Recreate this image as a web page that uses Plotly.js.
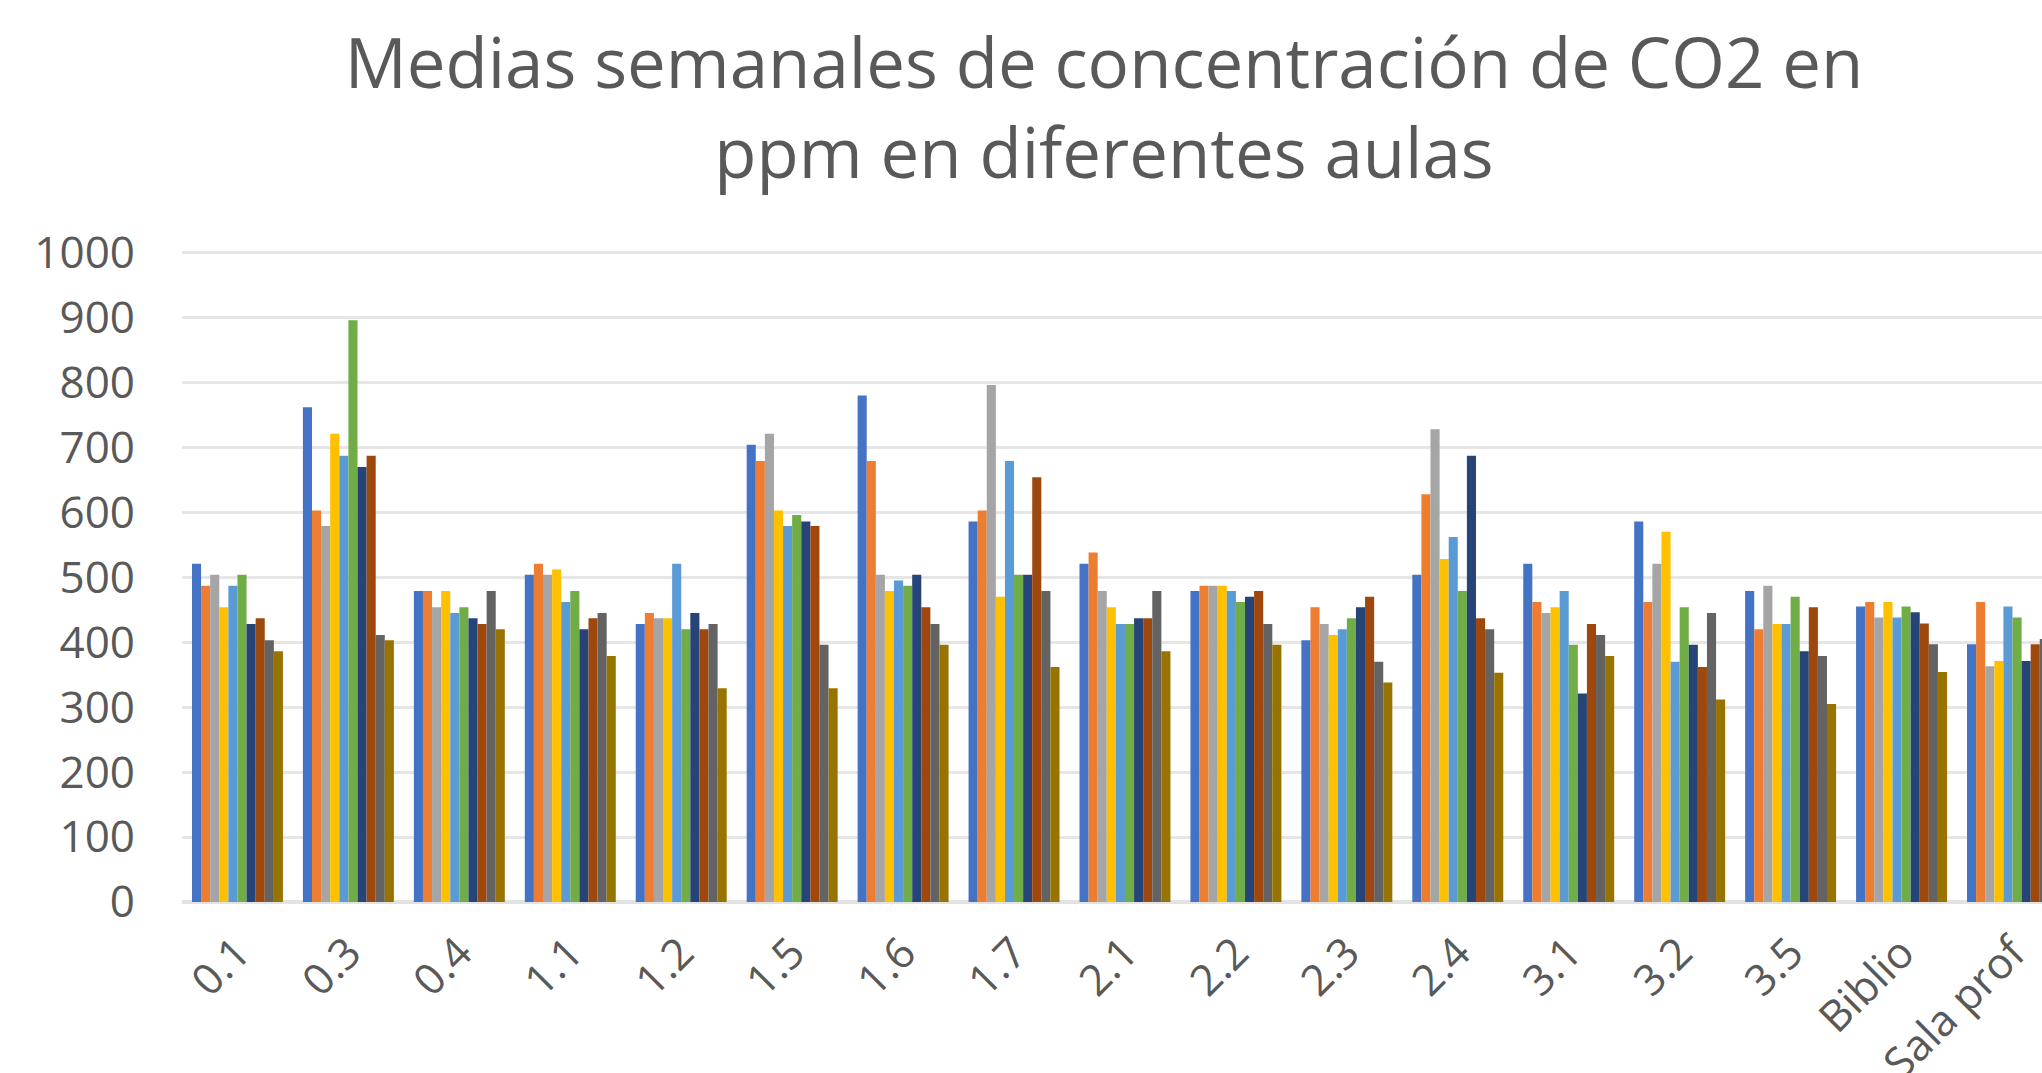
<!DOCTYPE html>
<html>
<head>
<meta charset="utf-8">
<script src="https://cdn.plot.ly/plotly-3.0.1.min.js"></script>
<style>
  html, body { margin: 0; padding: 0; background: #ffffff; overflow: hidden; }
  #chart { width: 2042px; height: 1073px; }
</style>
</head>
<body>
<div id="chart"></div>
<script>
// Categories (aulas)
const categories = ["0.1", "0.3", "0.4", "1.1", "1.2", "1.5", "1.6", "1.7", "2.1", "2.2", "2.3", "2.4", "3.1", "3.2", "3.5", "Biblio", "Sala prof"];

// Series names (weeks)
const seriesNames = ["Semana 1", "Semana 2", "Semana 3", "Semana 4", "Semana 5", "Semana 6", "Semana 7", "Semana 8", "Semana 9", "Semana 10"];

// Weekly mean CO2 (ppm) per classroom, one array per week
const semana1  = [521, 762, 479, 504, 428, 704, 780, 586, 521, 479, 403, 504, 521, 586, 479, 455, 397];
const semana2  = [487, 603, 479, 521, 445, 679, 679, 603, 538, 487, 454, 628, 462, 462, 420, 462, 462];
const semana3  = [504, 579, 454, 504, 437, 721, 504, 796, 479, 487, 428, 728, 445, 521, 487, 438, 363];
const semana4  = [454, 721, 479, 512, 437, 603, 479, 470, 454, 487, 411, 528, 454, 570, 428, 462, 371];
const semana5  = [487, 687, 445, 462, 521, 579, 495, 679, 428, 479, 420, 562, 479, 370, 428, 438, 455];
const semana6  = [504, 896, 454, 479, 420, 596, 487, 504, 428, 462, 437, 479, 396, 454, 470, 455, 438];
const semana7  = [428, 670, 437, 420, 445, 586, 504, 504, 437, 470, 454, 687, 321, 396, 386, 446, 371];
const semana8  = [437, 687, 428, 437, 420, 579, 454, 654, 437, 479, 470, 437, 428, 362, 454, 429, 397];
const semana9  = [403, 411, 479, 445, 428, 396, 428, 479, 479, 428, 370, 420, 411, 445, 379, 397, 405];
const semana10 = [386, 403, 420, 379, 329, 329, 396, 362, 386, 396, 338, 353, 379, 312, 305, 354, 350];

// Y axis ticks
const yTickVals = [0, 100, 200, 300, 400, 500, 600, 700, 800, 900, 1000];

const seriesValues = [semana1, semana2, semana3, semana4, semana5, semana6, semana7, semana8, semana9, semana10];
const colors = ["#4472C4", "#ED7D31", "#A5A5A5", "#FFC000", "#5B9BD5", "#70AD47", "#264478", "#9E480E", "#636363", "#997300"];

const traces = seriesValues.map((vals, i) => ({
  type: "bar",
  name: seriesNames[i],
  x: categories,
  y: vals,
  marker: { color: colors[i], line: { width: 0 } },
  hoverinfo: "x+y+name"
}));

const layout = {
  width: 2042,
  height: 1073,
  margin: { l: 182, r: 0, t: 250, b: 171, pad: 0 },
  paper_bgcolor: "#ffffff",
  plot_bgcolor: "#ffffff",
  showlegend: false,
  barmode: "group",
  bargap: 0.18,
  bargroupgap: 0,
  font: { family: "Open Sans, sans-serif", color: "#595959" },
  title: {
    text: "Medias semanales de concentración de CO2 en<br>ppm en diferentes aulas",
    font: { family: "Open Sans, sans-serif", size: 69, color: "#595959" },
    xref: "container",
    yref: "container",
    x: 1104 / 2042,
    xanchor: "center",
    y: 1 - 88 / 1073,
    yanchor: "top"
  },
  xaxis: {
    type: "category",
    range: [-0.5, 16.266],
    tickangle: -45,
    tickfont: { size: 43, color: "#595959" },
    showgrid: false,
    showline: false,
    zeroline: false,
    ticks: "",
    ticklabelstandoff: 16,
    fixedrange: true
  },
  yaxis: {
    range: [0, 1004],
    tickvals: yTickVals,
    ticktext: yTickVals.map(String),
    tickfont: { size: 44, color: "#595959" },
    showgrid: true,
    gridcolor: "#E6E6E6",
    gridwidth: 3,
    zeroline: true,
    zerolinecolor: "#E2E2E2",
    zerolinewidth: 4,
    showline: false,
    ticks: "",
    ticklabelstandoff: 46,
    fixedrange: true
  }
};

Plotly.newPlot("chart", traces, layout, { displayModeBar: false, staticPlot: true });
</script>
</body>
</html>
